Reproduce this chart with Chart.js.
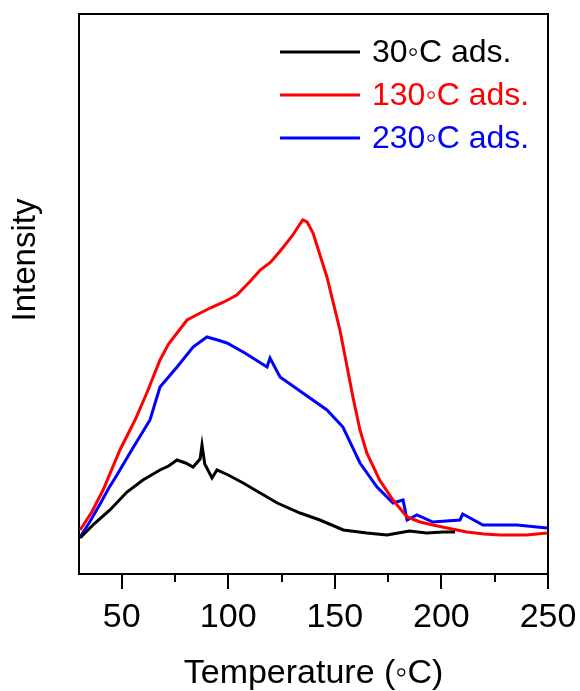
<!DOCTYPE html>
<html>
<head>
<meta charset="utf-8">
<script src="https://cdn.jsdelivr.net/npm/chart.js@4"></script>
<style>
  body { margin: 0; background: #fff; }
  #wrap { width: 580px; height: 691px; }
</style>
</head>
<body>
<div id="wrap"><canvas id="tpdChart" width="580" height="691"></canvas></div>
<script>
// Temperature (°C) and intensity (arb. units) for each adsorption temperature
const t30 = [30.5, 37, 44.5, 52.5, 60, 68, 72, 76, 80, 83.5, 86.8, 87.7, 89, 92.4, 94.7, 100, 107, 115, 123, 133.7, 143, 154, 165, 174.5, 185, 193, 200.8, 206.4];
const i30 = [36, 50, 64, 82, 94, 104, 108, 114, 111, 107, 115, 129, 110, 96, 104, 99, 91, 81, 71, 61, 54, 44, 41, 39, 43, 41, 42, 42];

const t130 = [30.5, 36, 41.3, 49.2, 56.3, 62, 68, 72, 76, 80.7, 86, 91.5, 98, 104, 110, 115, 120, 124, 130, 133, 135, 137, 139.8, 146.3, 152.4, 158.5, 161.8, 165, 171, 177.3, 183.9, 190, 196, 205, 212, 220, 227.5, 240, 249.5];
const i130 = [44, 62, 84, 124, 154, 182, 214, 230, 241, 254, 260, 266, 272, 279, 292, 304, 312, 322, 338, 348, 354, 352, 341, 297, 244, 177, 144, 121, 94, 74, 57, 52, 49, 45, 42, 40, 39, 39, 41];

const t230 = [30.5, 35, 39.9, 44, 47.8, 55, 63.3, 68, 76, 83.5, 90, 95, 99.4, 107.8, 118.2, 119.6, 124.3, 135, 146.3, 153.8, 161.8, 169.8, 177.3, 182, 183.9, 188.5, 196, 208.7, 210, 219.5, 235.5, 249.5];
const i230 = [37, 52, 70, 86, 99, 125, 154, 187, 207, 227, 237, 234, 231, 221, 207, 216, 197, 181, 164, 147, 111, 87, 71, 74, 54, 59, 52, 54, 60, 49, 49, 46];

const seriesLabels = ['30\u25E6C ads.', '130\u25E6C ads.', '230\u25E6C ads.'];
const seriesColors = ['#000000', '#ff0000', '#0000ff'];
const xTicks = [50, 100, 150, 200, 250];
const xMinorTicks = [75, 125, 175, 225];
const yTitle = 'Intensity';
const fontFamily = '"Liberation Sans", Arial, sans-serif';

function pairs(xs, ys) {
    return xs.map((x, k) => ({ x: x, y: ys[k] }));
}

// frame, minor ticks, y title and legend drawn on top of the chart
const extras = {
    id: 'extras',
    afterDraw(chart) {
        const ctx = chart.ctx;
        const a = chart.chartArea;
        const xs = chart.scales.x;
        ctx.save();
        ctx.strokeStyle = '#000';
        ctx.lineWidth = 2;
        ctx.beginPath();
        ctx.moveTo(a.left, a.top);
        ctx.lineTo(a.right, a.top);
        ctx.lineTo(a.right, a.bottom);
        ctx.stroke();

        ctx.beginPath();
        xMinorTicks.forEach(v => {
            const px = Math.round(xs.getPixelForValue(v));
            ctx.moveTo(px, a.bottom);
            ctx.lineTo(px, a.bottom + 8);
        });
        ctx.stroke();

        // y axis title (sits above the middle of the axis in the original)
        ctx.save();
        ctx.translate(26, 260);
        ctx.rotate(-Math.PI / 2);
        ctx.font = '33px ' + fontFamily;
        ctx.fillStyle = '#000';
        ctx.textAlign = 'center';
        ctx.textBaseline = 'middle';
        ctx.fillText(yTitle, 0, 0);
        ctx.restore();

        // legend
        ctx.font = '32px ' + fontFamily;
        ctx.textBaseline = 'middle';
        ctx.textAlign = 'left';
        chart.data.datasets.forEach((ds, k) => {
            const y = 52 + k * 43;
            ctx.strokeStyle = ds.borderColor;
            ctx.lineWidth = 3;
            ctx.beginPath();
            ctx.moveTo(280, y);
            ctx.lineTo(360, y);
            ctx.stroke();
            ctx.fillStyle = ds.borderColor;
            ctx.fillText(ds.label, 372, y + 1);
        });
        ctx.restore();
    }
};

const ctx = document.getElementById('tpdChart').getContext('2d');

new Chart(ctx, {
    type: 'line',
    data: {
        datasets: [
            { label: seriesLabels[0], data: pairs(t30, i30), borderColor: seriesColors[0] },
            { label: seriesLabels[1], data: pairs(t130, i130), borderColor: seriesColors[1] },
            { label: seriesLabels[2], data: pairs(t230, i230), borderColor: seriesColors[2] }
        ]
    },
    options: {
        responsive: false,
        animation: false,
        layout: { padding: { top: 14, right: 32, left: 0, bottom: 0 } },
        elements: {
            point: { radius: 0 },
            line: { borderWidth: 3, tension: 0 }
        },
        scales: {
            x: {
                type: 'linear',
                min: 30,
                max: 250,
                afterBuildTicks: scale => {
                    scale.ticks = xTicks.map(v => ({ value: v }));
                },
                afterFit: scale => {
                    scale.height = 117;
                    scale.paddingLeft = 0;
                    scale.paddingRight = 0;
                },
                grid: {
                    drawOnChartArea: false,
                    drawTicks: true,
                    tickLength: 15,
                    color: '#000',
                    lineWidth: 2
                },
                border: { color: '#000', width: 2 },
                ticks: {
                    color: '#000',
                    padding: 8,
                    maxRotation: 0,
                    font: { family: fontFamily, size: 34 }
                },
                title: {
                    display: true,
                    text: 'Temperature (\u25E6C)',
                    color: '#000',
                    padding: { top: 10, bottom: -3 },
                    font: { family: fontFamily, size: 34 }
                }
            },
            y: {
                min: 0,
                max: 560,
                afterFit: scale => { scale.width = 79; },
                grid: { display: false },
                border: { display: true, color: '#000', width: 2 },
                ticks: { display: false },
                title: { display: false }
            }
        },
        plugins: {
            legend: { display: false },
            tooltip: { enabled: false }
        }
    },
    plugins: [extras]
});
</script>
</body>
</html>
